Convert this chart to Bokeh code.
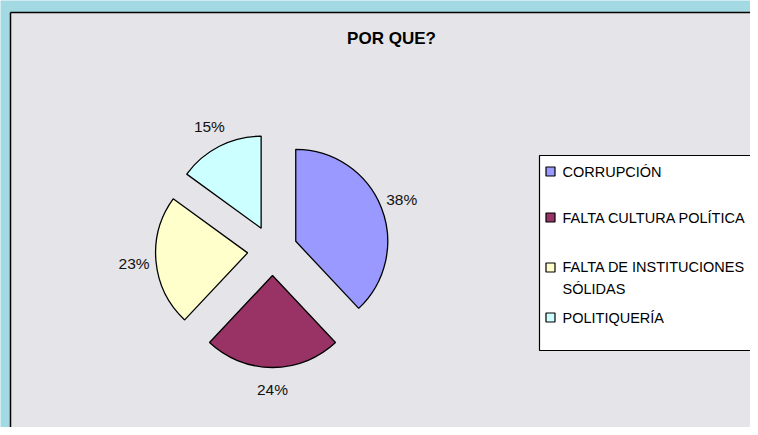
import math
from bokeh.plotting import figure
from bokeh.models import Range1d, ColumnDataSource
from bokeh.core.properties import value
from bokeh.embed import file_html
from bokeh.resources import INLINE

# ---- data ----
categories = ["CORRUPCIÓN", "FALTA CULTURA POLÍTICA", "FALTA DE INSTITUCIONES SÓLIDAS", "POLITIQUERÍA"]
legend_labels = ["CORRUPCIÓN", "FALTA CULTURA POLÍTICA", "FALTA DE INSTITUCIONES\nSÓLIDAS", "POLITIQUERÍA"]
percents = [38, 24, 23, 15]
colors = ["#9999FF", "#993366", "#FFFFCC", "#CCFFFF"]
title_text = "POR QUE?"

# ---- layout (screen px of the photographed picture) ----
W, H = 750, 427


def sx(x):
    return x


def sy(y):
    return H - y


FONT = "Liberation Sans"

p = figure(width=W, height=H, output_backend="svg", toolbar_location=None,
           x_range=Range1d(0, W), y_range=Range1d(0, H), min_border=0)
p.axis.visible = False
p.grid.visible = False
p.outline_line_color = None
p.background_fill_color = "#a3d9e2"
p.border_fill_color = "#a3d9e2"

# marble panel (fill, then only its left and top borders are visible)
p.quad(left=sx(10), right=sx(W + 40), top=sy(12), bottom=sy(H + 40),
       fill_color="#e5e5e9", line_color=None)
p.multi_line(xs=[[sx(10), sx(10)], [sx(10), sx(W + 40)]],
             ys=[[sy(H + 40), sy(12)], [sy(12), sy(12)]],
             line_color="black", line_width=1.5)

# title
p.text(x=[sx(391)], y=[sy(38)], text=[title_text], text_align="center",
       text_baseline="middle", text_font=value(FONT), text_font_size="17px",
       text_font_style="bold", text_color="black")

# pie
cx, cy = 272, 250
R = 92
EXPLODE = 25
LABEL_R = 139
total = sum(percents)
xs, ys, sa, ea, lx, ly, ltxt = [], [], [], [], [], [], []
acc = 0.0
for v in percents:
    t0 = acc / total * 2 * math.pi
    acc += v
    t1 = acc / total * 2 * math.pi
    tm = (t0 + t1) / 2
    # clockwise from 12 o'clock, screen coords
    ax = cx + EXPLODE * math.sin(tm)
    ay = cy - EXPLODE * math.cos(tm)
    xs.append(sx(ax))
    ys.append(sy(ay))
    sa.append(math.pi / 2 - t0)
    ea.append(math.pi / 2 - t1)
    lx.append(sx(cx + LABEL_R * math.sin(tm)))
    ly.append(sy(cy - LABEL_R * math.cos(tm)))
    ltxt.append(f"{v}%")

src = ColumnDataSource(dict(x=xs, y=ys, sa=sa, ea=ea, color=colors))
p.wedge(x="x", y="y", radius=R, radius_units="screen", start_angle="sa",
        end_angle="ea", direction="clock", fill_color="color",
        line_color="black", line_width=1.3, source=src)

p.text(x=lx, y=ly, text=ltxt, text_align="center", text_baseline="middle",
       text_font=value(FONT), text_font_size="15.5px", text_color="#111111")

# legend box (open to the right edge)
p.quad(left=sx(539), right=sx(W + 40), top=sy(155), bottom=sy(350),
       fill_color="white", line_color=None)
p.multi_line(xs=[[sx(W + 40), sx(539), sx(539), sx(W + 40)]],
             ys=[[sy(155), sy(155), sy(350), sy(350)]],
             line_color="black", line_width=1.2)

row_y = [171, 217, 267, 317]
text_y = [171, 217, 277.5, 317]
p.rect(x=[sx(550)] * 4, y=[sy(v) for v in row_y], width=9, height=9,
       width_units="screen", height_units="screen", fill_color=colors,
       line_color="black", line_width=1.2)
p.text(x=[sx(562)] * 4, y=[sy(v) for v in text_y], text=legend_labels,
       text_align="left", text_baseline="middle", text_font=value(FONT),
       text_font_size="14.5px", text_color="black", text_line_height=1.35)

open("out.html", "w").write(file_html(p, INLINE))
